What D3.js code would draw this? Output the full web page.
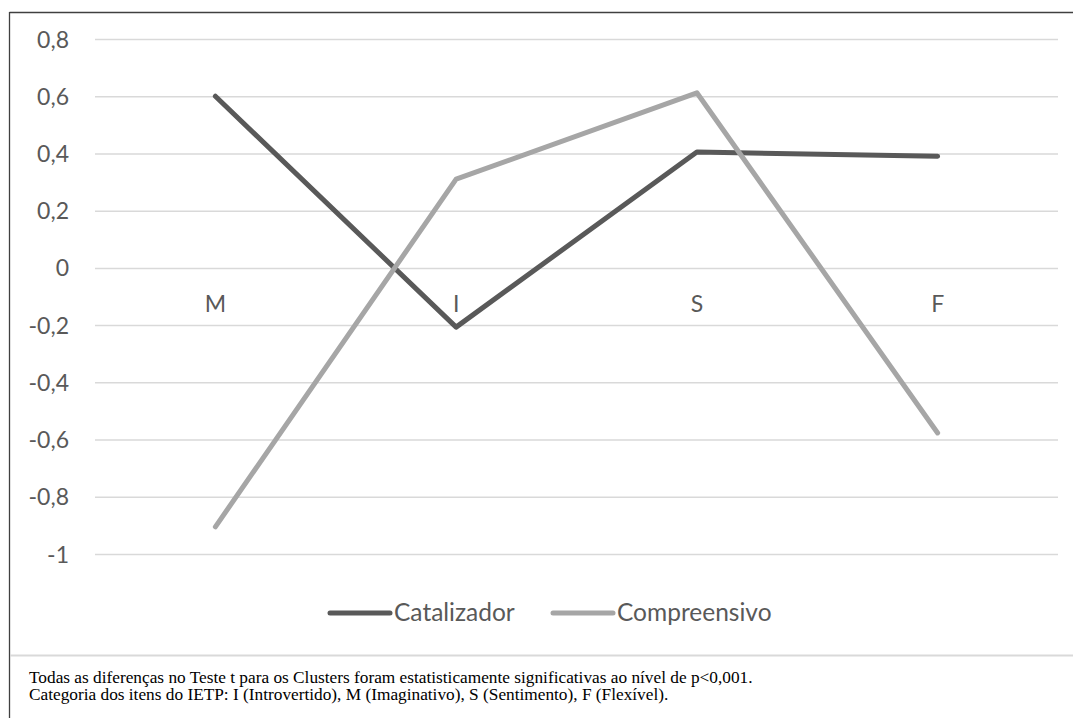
<!DOCTYPE html>
<html><head><meta charset="utf-8">
<script src="https://cdn.jsdelivr.net/npm/d3@7"></script>
<style>body{margin:0;background:#fff}svg{display:block}</style>
</head><body>
<svg id="c" width="1073" height="718"></svg>
<script>
const categories = ["M","I","S","F"];
const catalizador = [0.6, -0.207, 0.405, 0.39];
const compreensivo = [-0.905, 0.31, 0.612, -0.577];
const yTicks = [0.8,0.6,0.4,0.2,0,-0.2,-0.4,-0.6,-0.8,-1];
const seriesNames = ["Catalizador","Compreensivo"];
const seriesColors = ["#595959","#a6a6a6"];
const notes = ["Todas as diferenças no Teste t para os Clusters foram estatisticamente significativas ao nível de p<0,001.",
"Categoria dos itens do IETP: I (Introvertido), M (Imaginativo), S (Sentimento), F (Flexível)."];

const FONT = "Lato, 'Open Sans', sans-serif";
const svg = d3.select("#c");
// frame
svg.append("line").attr("x1",9.5).attr("x2",1073).attr("y1",12.5).attr("y2",12.5).attr("stroke","#404040").attr("stroke-width",1.3);
svg.append("line").attr("x1",9.5).attr("x2",9.5).attr("y1",12).attr("y2",718).attr("stroke","#404040").attr("stroke-width",1.3);
svg.append("line").attr("x1",10).attr("x2",1073).attr("y1",655.5).attr("y2",655.5).attr("stroke","#d9d9d9").attr("stroke-width",2);

const x = d3.scaleBand().domain(categories).range([95,1058]);
const y = d3.scaleLinear().domain([-1,0.8]).range([554,39]);
const fmt = d => String(d).replace(".",",");

const yAxis = svg.append("g").attr("transform","translate(95,0)")
  .call(d3.axisLeft(y).tickValues(yTicks).tickSize(-963).tickPadding(26).tickFormat(fmt));
yAxis.select(".domain").remove();
yAxis.selectAll(".tick line").attr("stroke","#d9d9d9").attr("stroke-width",1.5);
yAxis.selectAll(".tick text").attr("fill","#595959").attr("dy","0.35em").style("font-family",FONT).style("font-size","23px");

const xAxis = svg.append("g").attr("transform",`translate(0,${y(0)})`)
  .call(d3.axisBottom(x).tickSize(0).tickPadding(28));
xAxis.select(".domain").remove();
xAxis.selectAll(".tick text").attr("fill","#595959").style("font-family",FONT).style("font-size","23px");

const line = d3.line().x((d,i)=>x(categories[i])+x.bandwidth()/2).y(d=>y(d));
[catalizador, compreensivo].forEach((s,k)=>{
  svg.append("path").attr("d",line(s)).attr("fill","none").attr("stroke",seriesColors[k])
    .attr("stroke-width",5).attr("stroke-linecap","round").attr("stroke-linejoin","round");
});

// legend
const legX = [330, 553];
seriesNames.forEach((n,k)=>{
  svg.append("line").attr("x1",legX[k]).attr("x2",legX[k]+60).attr("y1",613).attr("y2",613)
    .attr("stroke",seriesColors[k]).attr("stroke-width",5).attr("stroke-linecap","round");
  svg.append("text").attr("x",legX[k]+64).attr("y",621).text(n).attr("fill","#595959")
    .style("font-family",FONT).style("font-size","24.5px");
});

notes.forEach((t,i)=>{
  svg.append("text").attr("x",29).attr("y",683+i*17).text(t).attr("fill","#000")
    .style("font-family","'Liberation Serif', serif").style("font-size","17.3px");
});
</script>
</body></html>
